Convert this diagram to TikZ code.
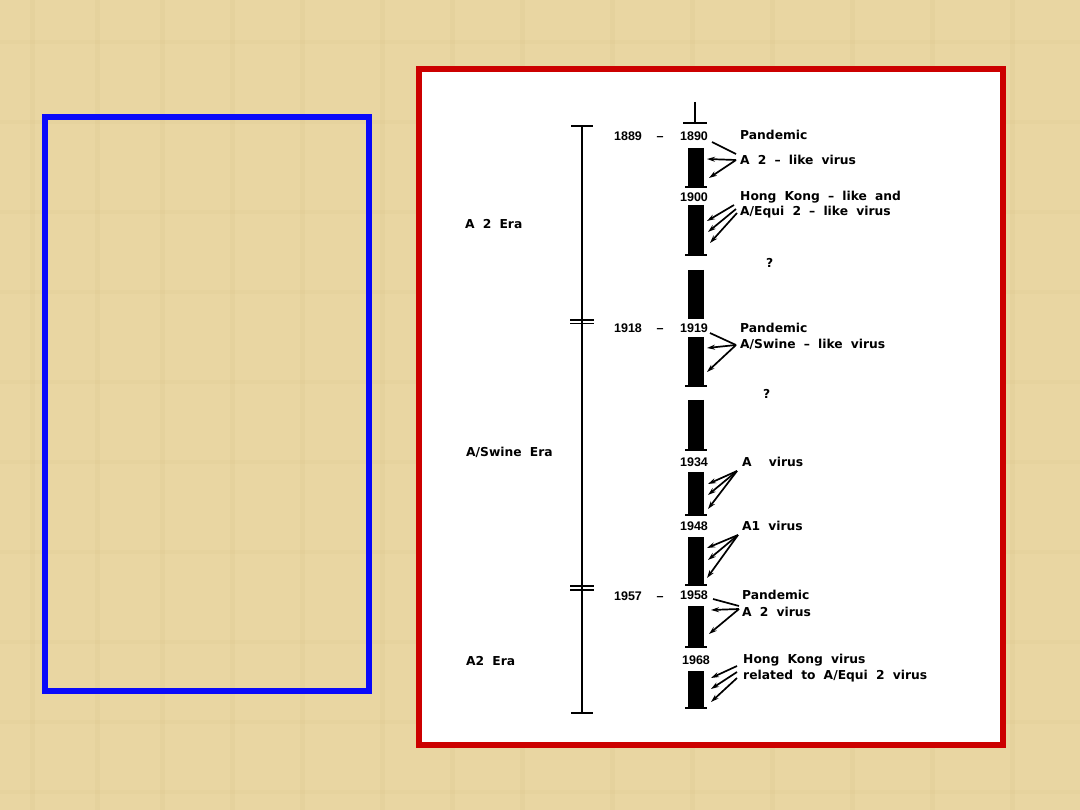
\documentclass[tikz,border=0pt]{standalone}
\usepackage{fontspec}
\setmainfont{Liberation Sans}
\newfontfamily\diag{DejaVu Sans}[WordSpace=1.9]
\usetikzlibrary{arrows.meta}
\definecolor{papyrus}{RGB}{233,214,162}
\definecolor{papyrusdark}{RGB}{216,194,136}
\definecolor{frameblue}{RGB}{10,10,250}
\definecolor{framered}{RGB}{204,0,0}
\tikzset{
  lbl/.style={font=\diag\fontsize{12.3}{14}\selectfont\bfseries, inner sep=0pt, anchor=west},
  yr/.style={font=\fontsize{12.5}{14}\selectfont\bfseries, inner sep=0pt, anchor=center},
  bar/.style={line width=16pt},
  tick/.style={line width=1.5pt},
  era/.style={line width=1.3pt},
  arr/.style={line width=1.7pt, -{Stealth[length=8pt,width=5pt]}},
  ptr/.style={line width=1.7pt}
}
\begin{document}
\begin{tikzpicture}[x=1pt,y=-1pt]
\useasboundingbox (0,0) rectangle (1080,810);
\fill[papyrus] (0,0) rectangle (1080,810);
\foreach \xx in {30,95,160,230,300,380,450,520,610,690,770,850,930,1010}{
  \fill[papyrusdark,opacity=0.18] (\xx,0) rectangle ++(5,810);}
\foreach \yy in {40,120,210,290,380,460,550,640,720,790}{
  \fill[papyrusdark,opacity=0.15] (0,\yy) rectangle ++(1080,4);}
% blue frame
\draw[frameblue, line width=6pt] (45,117) rectangle (369,691);
% red frame
\draw[framered, line width=6pt, fill=white] (419,69) rectangle (1003,745);

% era line
\coordinate (e0) at (582,126);
\coordinate (e1) at (582,713);
\draw[era] (e0) -- (e1);
\draw[tick] (571,126) -- (593,126);
\draw[tick] (570,320) -- (594,320);
\draw[tick] (570,323.5) -- (594,323.5);
\draw[tick] (570,586) -- (594,586);
\draw[tick] (570,590) -- (594,590);
\draw[tick] (571,713) -- (593,713);

% era labels
\node[lbl] (era1) at (465,224) {A 2 Era};
\node[lbl] (era2) at (466,452) {A/Swine Era};
\node[lbl] (era3) at (466,661) {A2 Era};

% central bar
\draw[line width=1.5pt] (695,102) -- (695,123);
\draw[tick] (683,123) -- (707,123);
\foreach \a/\b in {148/187,205/255,270/319,337/386,400/450,472/515,537/585,606/647,671/708}{
  \draw[bar] (696,\a) -- (696,\b);
}
\foreach \t in {187,255,386,450,515,585,647,708}{
  \draw[tick] (685,\t) -- (707,\t);
}

% years
\node[yr] (y1889) at (628,136) {1889};
\node[yr] (d1) at (660,136) {\vphantom{1}–};
\node[yr] (y1890) at (694,136) {1890};
\node[yr] (y1900) at (694,197) {1900};
\node[yr] (y1918) at (628,328) {1918};
\node[yr] (d2) at (660,328) {\vphantom{1}–};
\node[yr] (y1919) at (694,328) {1919};
\node[yr] (y1934) at (694,462) {1934};
\node[yr] (y1948) at (694,526) {1948};
\node[yr] (y1957) at (628,596) {1957};
\node[yr] (d3) at (660,596) {\vphantom{1}–};
\node[yr] (y1958) at (694,595) {1958};
\node[yr] (y1968) at (696,660) {1968};

% labels
\node[lbl] (t1) at (740,135) {Pandemic};
\node[lbl] (t2) at (740,160) {A 2 – like virus};
\node[lbl] (t3) at (740,197) {Hong Kong – like and};
\node[lbl] (t4) at (740,212) {A/Equi 2 – like virus};
\node[lbl] (q1) at (766,263) {?};
\node[lbl] (t5) at (740,328) {Pandemic};
\node[lbl] (t6) at (740,344) {A/Swine – like virus};
\node[lbl] (q2) at (763,394) {?};
\node[lbl] (t7) at (742,462) {A\hspace{1.4em}virus};
\node[lbl] (t8) at (742,526) {A1 virus};
\node[lbl] (t9) at (742,595) {Pandemic};
\node[lbl] (t10) at (742,612) {A 2 virus};
\node[lbl] (t11) at (743,660) {Hong Kong virus};
\node[lbl] (t12) at (743,676) {related to A/Equi 2 virus};

% arrows group 1
\coordinate (o1) at (736,154);
\coordinate (o1b) at (736,160);
\coordinate (a1a) at (712,142);
\coordinate (a1b) at (707,159);
\coordinate (a1c) at (709,178);
\draw[ptr] (a1a) -- (o1);
\draw[arr] (o1b) -- (a1b);
\draw[arr] (o1b) -- (a1c);
% group 2
\coordinate (o2) at (734,205);
\coordinate (o2b) at (736,209);
\coordinate (o2c) at (737,213);
\coordinate (a2a) at (707,221);
\coordinate (a2b) at (708,232);
\coordinate (a2c) at (710,243);
\draw[arr] (o2) -- (a2a);
\draw[arr] (o2b) -- (a2b);
\draw[arr] (o2c) -- (a2c);
% group 3
\coordinate (o3) at (736,345);
\coordinate (a3a) at (710,333);
\coordinate (a3b) at (707,348);
\coordinate (a3c) at (707,372);
\draw[ptr] (a3a) -- (o3);
\draw[arr] (o3) -- (a3b);
\draw[arr] (o3) -- (a3c);
% group 4
\coordinate (o4) at (737,471);
\coordinate (a4a) at (708,484);
\coordinate (a4b) at (708,495);
\coordinate (a4c) at (708,509);
\draw[arr] (o4) -- (a4a);
\draw[arr] (o4) -- (a4b);
\draw[arr] (o4) -- (a4c);
% group 5
\coordinate (o5) at (738,535);
\coordinate (a5a) at (707,548);
\coordinate (a5b) at (708,560);
\coordinate (a5c) at (707,578);
\draw[arr] (o5) -- (a5a);
\draw[arr] (o5) -- (a5b);
\draw[arr] (o5) -- (a5c);
% group 6
\coordinate (o6) at (739,606);
\coordinate (o6b) at (739,609);
\coordinate (a6a) at (713,599);
\coordinate (a6b) at (711,610);
\coordinate (a6c) at (709,634);
\draw[ptr] (a6a) -- (o6);
\draw[arr] (o6b) -- (a6b);
\draw[arr] (o6b) -- (a6c);
% group 7
\coordinate (o7a) at (737,666);
\coordinate (o7b) at (737,672);
\coordinate (o7c) at (737,678);
\coordinate (a7a) at (711,678);
\coordinate (a7b) at (711,689);
\coordinate (a7c) at (711,702);
\draw[arr] (o7a) -- (a7a);
\draw[arr] (o7b) -- (a7b);
\draw[arr] (o7c) -- (a7c);
\end{tikzpicture}
\end{document}
